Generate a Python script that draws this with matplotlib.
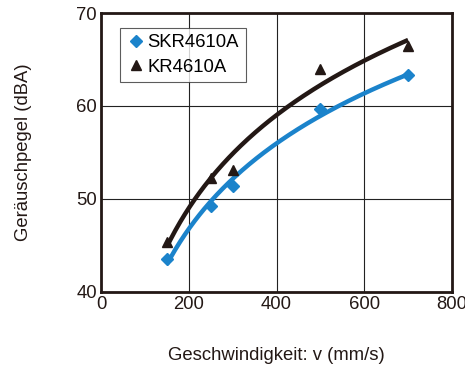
import numpy as np
import matplotlib
matplotlib.use("Agg")
import matplotlib.pyplot as plt

plt.rcParams['font.family'] = ['Liberation Sans', 'DejaVu Sans']

speed = [150, 250, 300, 500, 700]
skr_noise = [43.5, 49.3, 51.4, 59.7, 63.3]
kr_noise = [45.4, 52.3, 53.1, 64.0, 66.5]
series_names = ["SKR4610A", "KR4610A"]
x_ticks = [0, 200, 400, 600, 800]
y_ticks = [40, 50, 60, 70]

blue = "#1B83CB"
black = "#231815"
fs = 13.3

fig = plt.figure(figsize=(4.65, 3.66), dpi=100)
ax = fig.add_axes([101/465, 1-292/366, 351/465, 279/366])

xs = np.array(speed, dtype=float)
xf = np.linspace(xs.min(), xs.max(), 200)
for vals, col in [(skr_noise, blue), (kr_noise, black)]:
    a, b = np.polyfit(np.log(xs), np.array(vals), 1)
    ax.plot(xf, a*np.log(xf)+b, color=col, lw=3.2, solid_capstyle='butt', zorder=3)

ax.plot(speed, skr_noise, 'D', color=blue, ms=6.5, ls='none', label=series_names[0], zorder=4)
ax.plot(speed, kr_noise, '^', color=black, ms=7.5, ls='none', label=series_names[1], zorder=4)

ax.set_xlim(0, 800)
ax.set_ylim(40, 70)
ax.set_xticks(x_ticks)
ax.set_yticks(y_ticks)
ax.grid(True, color="#222222", lw=0.8)
ax.set_axisbelow(True)
ax.tick_params(length=0, labelsize=fs, colors=black, pad=3)
for s in ax.spines.values():
    s.set_linewidth(2)
    s.set_color(black)

ax.set_xlabel("Geschwindigkeit: v (mm/s)", fontsize=fs, color=black, labelpad=24)
ax.set_ylabel("Geräuschpegel (dBA)", fontsize=fs, color=black, labelpad=32)

leg = ax.legend(loc='upper left', bbox_to_anchor=(19/351, 1-15/279), fontsize=fs,
                frameon=True, fancybox=False, edgecolor="#333333", handletextpad=0.15,
                borderpad=0.35, labelspacing=0.4, handlelength=1.0, borderaxespad=0)
leg.get_frame().set_linewidth(0.8)

fig.savefig("out.png", dpi=100)
